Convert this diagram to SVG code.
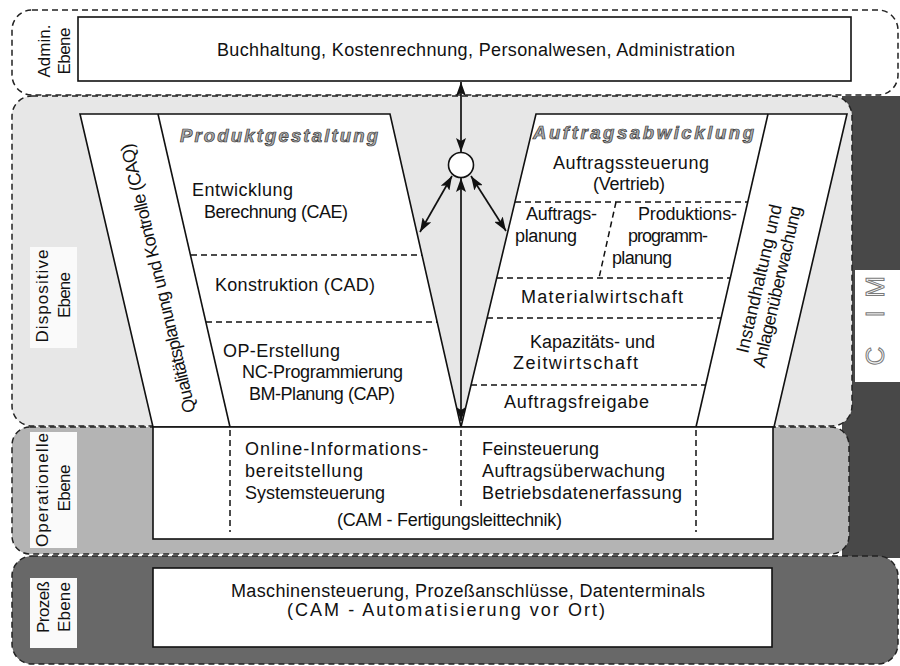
<svg xmlns="http://www.w3.org/2000/svg" width="900" height="666" viewBox="0 0 900 666">
<style>
text { font-family: "Liberation Sans", Arial, Helvetica, sans-serif; font-size: 18px; fill: #111; }
.rl { font-size: 17px; }
.lay { stroke: #222; stroke-width: 1.5; stroke-dasharray: 6 4; }
.box { fill: #fff; stroke: #111; stroke-width: 1.6; }
.edge { stroke: #111; stroke-width: 1.6; fill: none; }
.dash { stroke: #111; stroke-width: 1.5; stroke-dasharray: 6 4; fill: none; }
.lbl { fill: #fafafa; stroke: none; }
.ttl { font-weight: bold; font-style: italic; font-size: 18.5px; fill: #acacac; stroke: #333; stroke-width: 0.7; }
.cim { font-size: 26px; fill: #f6f6f6; stroke: #7a7a7a; stroke-width: 1; }
.conn line { stroke: #111; stroke-width: 1.7; marker-start: url(#ah); marker-end: url(#ah); }
</style>
<defs>
<marker id="ah" viewBox="0 0 14 10" refX="14" refY="5" markerWidth="14" markerHeight="10" markerUnits="userSpaceOnUse" orient="auto-start-reverse">
<path d="M0,0 L14,5 L0,10 L3,5 z" fill="#111"/>
</marker>
</defs>

<rect width="900" height="666" fill="#fff"/>

<!-- CIM dark bar -->
<g id="cim-bar">
<rect x="842" y="96" width="58" height="462" fill="#484848"/>
</g>

<!-- layers -->
<g id="admin-layer">
<rect x="12" y="10" width="886" height="85" rx="20" fill="#fff" class="lay"/>
<text class="rl" transform="translate(50,51) rotate(-90)" text-anchor="middle" textLength="53">Admin.</text>
<text class="rl" transform="translate(70,51) rotate(-90)" text-anchor="middle" textLength="47">Ebene</text>
</g>
<g id="dispositive-layer">
<rect x="12" y="96" width="840" height="330" rx="20" fill="#e7e7e7" class="lay"/>
<rect x="30" y="247" width="47" height="101" class="lbl"/>
<text class="rl" transform="translate(48,296) rotate(-90)" text-anchor="middle" textLength="93">Dispositive</text>
<text class="rl" transform="translate(70,295) rotate(-90)" text-anchor="middle" textLength="46">Ebene</text>
</g>
<g id="operational-layer">
<rect x="12" y="427" width="837" height="127" rx="18" fill="#b4b4b4" class="lay"/>
<rect x="30" y="432" width="47" height="116" class="lbl"/>
<text class="rl" transform="translate(48,490) rotate(-90)" text-anchor="middle" textLength="114">Operationelle</text>
<text class="rl" transform="translate(70,488) rotate(-90)" text-anchor="middle" textLength="47">Ebene</text>
</g>
<g id="process-layer">
<rect x="12" y="556" width="886" height="108" rx="20" fill="#686868" class="lay"/>
<rect x="30" y="578" width="47" height="70" class="lbl"/>
<text class="rl" transform="translate(49,607) rotate(-90)" text-anchor="middle" textLength="52">Prozeß</text>
<text class="rl" transform="translate(70,607) rotate(-90)" text-anchor="middle" textLength="50">Ebene</text>
</g>

<!-- admin box -->
<g id="admin-box">
<rect x="78" y="17" width="773" height="64" class="box"/>
<text x="217" y="56" textLength="518">Buchhaltung,  Kostenrechnung,  Personalwesen,  Administration</text>
</g>

<!-- left trapezoid -->
<g id="produktgestaltung">
<polygon points="80,114 390,114 461,427 153,427" class="box"/>
<line x1="158" y1="114" x2="230" y2="427" class="edge"/>
<line x1="191" y1="255" x2="422" y2="255" class="dash"/>
<line x1="206" y1="322" x2="437" y2="322" class="dash"/>
<text x="180" y="142" class="ttl" textLength="198">Produktgestaltung</text>
<text x="192" y="196" textLength="101">Entwicklung</text>
<text x="204" y="218" textLength="144">Berechnung (CAE)</text>
<text x="215" y="291" textLength="160">Konstruktion  (CAD)</text>
<text x="223" y="357" textLength="117">OP-Erstellung</text>
<text x="242" y="378" textLength="161">NC-Programmierung</text>
<text x="249" y="400" textLength="146">BM-Planung (CAP)</text>
</g>
<g id="qualitaet">
<text transform="translate(164,277) rotate(-103.3)" text-anchor="middle" font-size="17" textLength="276">Qualitätsplanung und Kontrolle (CAQ)</text>
</g>

<!-- right trapezoid -->
<g id="auftragsabwicklung">
<polygon points="536,114 847,114 774,427 461,427" class="box"/>
<line x1="768" y1="114" x2="696" y2="427" class="edge"/>
<line x1="515" y1="202" x2="748" y2="202" class="dash"/>
<line x1="497" y1="278" x2="730" y2="278" class="dash"/>
<line x1="487" y1="318" x2="721" y2="318" class="dash"/>
<line x1="471" y1="385" x2="706" y2="385" class="dash"/>
<line x1="616" y1="202" x2="599" y2="278" class="dash"/>
<text x="533" y="139" class="ttl" textLength="221">Auftragsabwicklung</text>
<text x="553" y="169" textLength="156">Auftragssteuerung</text>
<text x="593" y="190" textLength="72">(Vertrieb)</text>
<text x="526" y="220" textLength="71">Auftrags-</text>
<text x="515" y="242" textLength="62">planung</text>
<text x="638" y="220" textLength="99">Produktions-</text>
<text x="628" y="242" textLength="80">programm-</text>
<text x="612" y="264" textLength="60">planung</text>
<text x="521" y="303" textLength="162">Materialwirtschaft</text>
<text x="530" y="348" textLength="125">Kapazitäts-  und</text>
<text x="513" y="369" textLength="125">Zeitwirtschaft</text>
<text x="504" y="408" textLength="145">Auftragsfreigabe</text>
</g>
<g id="instandhaltung">
<text transform="translate(765,280) rotate(-77)" text-anchor="middle" font-size="17" textLength="152">Instandhaltung und</text>
<text transform="translate(783,288) rotate(-77)" text-anchor="middle" font-size="17" textLength="165">Anlagenüberwachung</text>
</g>

<!-- operational box -->
<g id="operational-box">
<rect x="153" y="427" width="620" height="112" class="box"/>
<line x1="230" y1="430" x2="230" y2="532" class="dash"/>
<line x1="461" y1="430" x2="461" y2="510" class="dash"/>
<line x1="696" y1="430" x2="696" y2="532" class="dash"/>
<text x="245" y="455" textLength="183">Online-Informations-</text>
<text x="245" y="477" textLength="118">bereitstellung</text>
<text x="245" y="499" textLength="140">Systemsteuerung</text>
<text x="482" y="455" textLength="117">Feinsteuerung</text>
<text x="482" y="477" textLength="183">Auftragsüberwachung</text>
<text x="482" y="499" textLength="200">Betriebsdatenerfassung</text>
<text x="337" y="526" textLength="225">(CAM - Fertigungsleittechnik)</text>
</g>

<!-- process box -->
<g id="process-box">
<rect x="153" y="568" width="619" height="79" class="box"/>
<text x="231" y="597" textLength="474">Maschinensteuerung,  Prozeßanschlüsse,  Datenterminals</text>
<text x="287" y="616" textLength="318">(CAM  -  Automatisierung  vor  Ort)</text>
</g>

<!-- CIM label -->
<g id="cim-label">
<rect x="855" y="270" width="45" height="112" fill="#fff"/>
<text transform="translate(884,356) rotate(-90)" text-anchor="middle" class="cim">C</text>
<text transform="translate(884,314) rotate(-90)" text-anchor="middle" class="cim">I</text>
<text transform="translate(884,287) rotate(-90)" text-anchor="middle" class="cim">M</text>
</g>

<!-- connectors -->
<g id="connectors" class="conn">
<line x1="461" y1="82" x2="461" y2="152"/>
<line x1="461" y1="178" x2="461" y2="421"/>
<line x1="452" y1="176" x2="420" y2="232"/>
<line x1="471" y1="176" x2="506" y2="231"/>
</g>

<g id="hub">
<circle cx="461" cy="165" r="12.5" fill="#fff" stroke="#111" stroke-width="1.6"/>
</g>
</svg>
